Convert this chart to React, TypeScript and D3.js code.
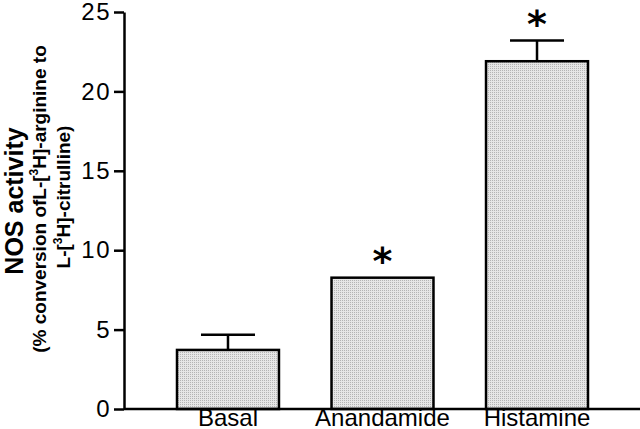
import React, { useEffect, useRef } from 'react';
import * as d3 from 'd3';

const categories = ['Basal', 'Anandamide', 'Histamine'];
const means = [3.72, 8.27, 21.9];
const errors = [0.95, 0, 1.3];
const significant = [false, true, true];
const yTicks = [0, 5, 10, 15, 20, 25];

const NosChart = () => {
    const svgRef = useRef<SVGSVGElement>(null);

    useEffect(() => {
        document.body.style.margin = '0';
        const svg = d3.select(svgRef.current);
        const width = 640;
        const height = 429;
        const margin = { top: 12, right: 0, bottom: 20, left: 124 };
        const font = 'Arial, "Liberation Sans", Helvetica, sans-serif';

        svg.selectAll('*').remove();

        const x = d3.scaleBand()
            .domain(categories)
            .range([margin.left, width + 1])
            .paddingInner(0.34)
            .paddingOuter(0.343);

        const y = d3.scaleLinear()
            .domain([0, 25])
            .range([height - margin.bottom, margin.top]);

        const data = categories.map((c, i) => ({ c, v: means[i], e: errors[i], s: significant[i] }));

        // dotted grey fill like the printed figure
        const defs = svg.append('defs');
        const pat = defs.append('pattern')
            .attr('id', 'dots')
            .attr('width', 2)
            .attr('height', 2)
            .attr('patternUnits', 'userSpaceOnUse');
        pat.append('rect').attr('width', 2).attr('height', 2).attr('fill', '#e6e6e6');
        pat.append('rect').attr('width', 1).attr('height', 1).attr('fill', '#b4b4b4');

        svg.selectAll('rect.bar')
            .data(data)
            .enter()
            .append('rect')
            .attr('class', 'bar')
            .attr('x', d => x(d.c)!)
            .attr('y', d => y(d.v))
            .attr('width', x.bandwidth())
            .attr('height', d => y(0) - y(d.v))
            .attr('fill', 'url(#dots)')
            .attr('stroke', '#000')
            .attr('stroke-width', 2.5);

        // error bars (upper only)
        const eb = svg.selectAll('g.err')
            .data(data.filter(d => d.e > 0))
            .enter()
            .append('g')
            .attr('class', 'err')
            .attr('stroke', '#000')
            .attr('stroke-width', 2.5);
        eb.append('line')
            .attr('x1', d => x(d.c)! + x.bandwidth() / 2)
            .attr('x2', d => x(d.c)! + x.bandwidth() / 2)
            .attr('y1', d => y(d.v))
            .attr('y2', d => y(d.v + d.e));
        eb.append('line')
            .attr('x1', d => x(d.c)! + x.bandwidth() / 2 - 27)
            .attr('x2', d => x(d.c)! + x.bandwidth() / 2 + 27)
            .attr('y1', d => y(d.v + d.e))
            .attr('y2', d => y(d.v + d.e));

        svg.selectAll('text.star')
            .data(data.filter(d => d.s))
            .enter()
            .append('text')
            .attr('class', 'star')
            .attr('x', d => x(d.c)! + x.bandwidth() / 2)
            .attr('y', d => y(d.v + d.e) - 4)
            .attr('text-anchor', 'middle')
            .attr('font-family', '"DejaVu Sans", sans-serif')
            .attr('font-weight', 'bold')
            .attr('font-size', 38)
            .text('*');

        // axes
        const axisY = svg.append('g')
            .attr('transform', `translate(${margin.left},0)`)
            .call(d3.axisLeft(y).tickValues(yTicks).tickSize(10).tickPadding(3).tickSizeOuter(0));
        axisY.select('.domain').attr('stroke-width', 2.5);
        axisY.selectAll('.tick line').attr('stroke-width', 2.5);
        axisY.selectAll('.tick text')
            .attr('font-family', font)
            .attr('font-size', 24)
            .attr('letter-spacing', 1.5)
            .attr('fill', '#000');

        svg.append('line')
            .attr('x1', margin.left)
            .attr('x2', width)
            .attr('y1', y(0))
            .attr('y2', y(0))
            .attr('stroke', '#000')
            .attr('stroke-width', 2.5);

        svg.selectAll('text.cat')
            .data(categories)
            .enter()
            .append('text')
            .attr('class', 'cat')
            .attr('x', d => x(d)! + x.bandwidth() / 2)
            .attr('y', height - 3)
            .attr('text-anchor', 'middle')
            .attr('font-family', font)
            .attr('font-size', 24)
            .text(d => d);

        // y labels
        svg.append('text')
            .attr('transform', 'translate(23,201) rotate(-90)')
            .attr('text-anchor', 'middle')
            .attr('font-family', font)
            .attr('font-weight', 'bold')
            .attr('font-size', 25)
            .text('NOS activity');

        const l2 = svg.append('text')
            .attr('transform', 'translate(46,199) rotate(-90)')
            .attr('text-anchor', 'middle')
            .attr('font-family', font)
            .attr('font-size', 19)
            .attr('font-weight', 'bold');
        l2.append('tspan').text('(% conversion ofL-[');
        l2.append('tspan').attr('font-size', 12).attr('dy', -8).text('3');
        l2.append('tspan').attr('dy', 8).text('H]-arginine to');

        const l3 = svg.append('text')
            .attr('transform', 'translate(70,197) rotate(-90)')
            .attr('text-anchor', 'middle')
            .attr('font-family', font)
            .attr('font-size', 19)
            .attr('font-weight', 'bold');
        l3.append('tspan').text('L-[');
        l3.append('tspan').attr('font-size', 12).attr('dy', -8).text('3');
        l3.append('tspan').attr('dy', 8).text('H]-citrulline)');
    }, []);

    return (
        <svg ref={svgRef} width={640} height={429} style={{ display: 'block', background: '#fff' }}></svg>
    );
};

const App = () => {
    return (
        <div>
            <NosChart />
        </div>
    );
};

export default App;
